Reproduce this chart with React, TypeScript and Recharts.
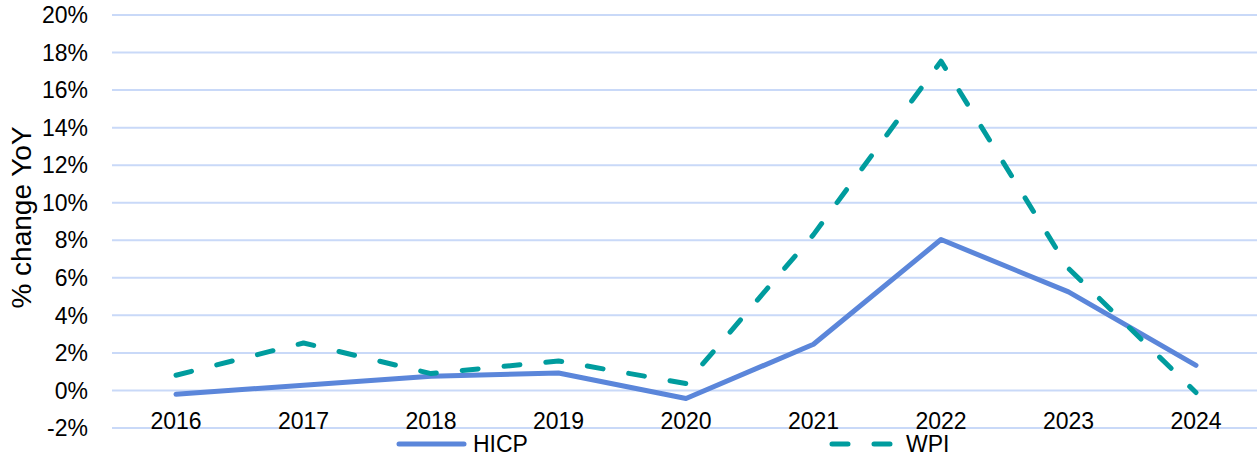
import { LineChart, Line, XAxis, YAxis, CartesianGrid, Legend } from "recharts";

const years = ["2016", "2017", "2018", "2019", "2020", "2021", "2022", "2023", "2024"];
const hicp = [-0.2, 0.28, 0.76, 0.93, -0.43, 2.46, 8.04, 5.25, 1.34];
const wpi = [0.81, 2.53, 0.9, 1.57, 0.37, 8.3, 17.54, 6.5, -0.11];
const yTicks = [-2, 0, 2, 4, 6, 8, 10, 12, 14, 16, 18, 20];

const data = years.map((year, i) => ({ year, HICP: hicp[i], WPI: wpi[i] }));

const FONT = "'Liberation Sans', Arial, sans-serif";
const HICP_COLOR = "#5B86DA";
const WPI_COLOR = "#009C9E";

// x-axis labels sit just above the -2% gridline, like the original
const XTick = ({ x, y, payload }: any) => (
  <text x={x} y={y + 1} textAnchor="middle" fontSize={23} fontFamily={FONT} fill="#000">
    {payload.value}
  </text>
);

const AxisTitle = ({ viewBox }: any) => {
  const cy = viewBox.y + viewBox.height / 2 - 4;
  return (
    <text
      x={21}
      y={cy}
      transform={`rotate(-90 21 ${cy})`}
      textAnchor="middle"
      dominantBaseline="central"
      fontSize={28}
      fontFamily={FONT}
      fill="#000"
    >
      % change YoY
    </text>
  );
};

const legendItems = [
  { name: "HICP", color: HICP_COLOR, dash: undefined, left: 396 },
  { name: "WPI", color: WPI_COLOR, dash: "16 26", left: 829 },
];

const renderLegend = () => (
  <div style={{ position: "relative", height: 30, fontFamily: FONT, fontSize: 23, lineHeight: "26px" }}>
    {legendItems.map((it) => (
      <div
        key={it.name}
        style={{ position: "absolute", left: it.left, top: 0, display: "flex", alignItems: "center" }}
      >
        <svg width={72} height={26}>
          <line x1={3} y1={13} x2={68} y2={13} stroke={it.color} strokeWidth={5}
            strokeLinecap="round" strokeDasharray={it.dash} />
        </svg>
        <span style={{ marginLeft: 5, color: "#000" }}>{it.name}</span>
      </div>
    ))}
  </div>
);

export default function App() {
  return (
    <div style={{ width: 1257, height: 461, overflow: "hidden", background: "#fff" }}>
      <style>{`body{margin:0;overflow:hidden;}`}</style>
      <LineChart
        width={1260}
        height={461}
        data={data}
        margin={{ top: 15, right: 0, bottom: 0, left: 0 }}
      >
        <CartesianGrid vertical={false} stroke="#C9D9F8" strokeWidth={2} />
        <XAxis
          dataKey="year"
          axisLine={false}
          tickLine={false}
          tickSize={0}
          tickMargin={0}
          height={3}
          padding={{ left: 64, right: 64 }}
          tick={<XTick />}
          interval={0}
        />
        <YAxis
          domain={[-2, 20]}
          ticks={yTicks}
          interval={0}
          width={112}
          axisLine={false}
          tickLine={false}
          tickSize={0}
          tickMargin={24}
          tickFormatter={(v: number) => `${v}%`}
          tick={{ fontSize: 23, fontFamily: FONT, fill: "#000" }}
          label={<AxisTitle />}
        />
        <Legend verticalAlign="bottom" content={renderLegend} wrapperStyle={{ height: 30 }} />
        <Line
          type="linear"
          dataKey="HICP"
          stroke={HICP_COLOR}
          strokeWidth={5}
          strokeLinecap="round"
          strokeLinejoin="round"
          dot={false}
          isAnimationActive={false}
        />
        <Line
          type="linear"
          dataKey="WPI"
          stroke={WPI_COLOR}
          strokeWidth={5}
          strokeLinecap="round"
          strokeLinejoin="round"
          strokeDasharray="16 26"
          dot={false}
          isAnimationActive={false}
        />
      </LineChart>
    </div>
  );
}
